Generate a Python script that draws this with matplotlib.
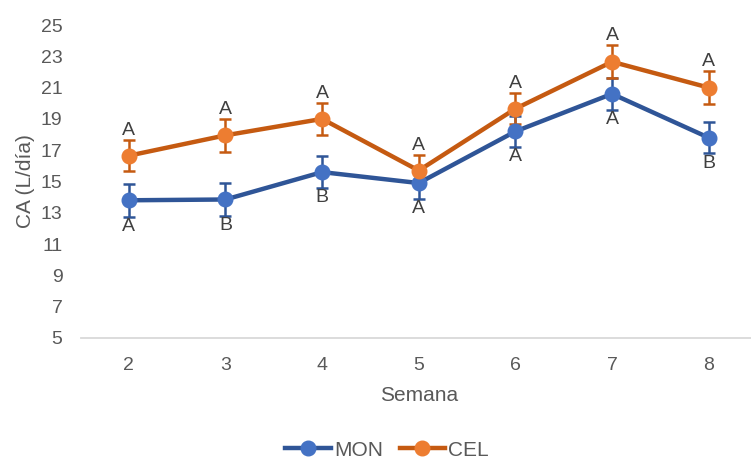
import matplotlib.pyplot as plt
from matplotlib.lines import Line2D

plt.rcParams['font.family'] = ['Liberation Sans', 'DejaVu Sans']

# Weekly intake per group
semanas = [2, 3, 4, 5, 6, 7, 8]
mon = [13.8, 13.85, 15.6, 14.9, 18.2, 20.6, 17.8]
cel = [16.65, 17.95, 19.0, 15.7, 19.65, 22.65, 21.0]
mon_err = [1.05, 1.05, 1.0, 1.0, 1.0, 1.0, 1.0]
cel_err = [1.0, 1.05, 1.0, 1.0, 1.0, 1.05, 1.05]
mon_letras = ['A', 'B', 'B', 'A', 'A', 'A', 'B']
cel_letras = ['A', 'A', 'A', 'A', 'A', 'A', 'A']

W, H = 751, 458
fig = plt.figure(figsize=(W / 100, H / 100), dpi=100)
ax = fig.add_axes([80.5 / W, 120 / H, (757 - 80.5) / W, 313 / H])

texto = '#595959'
handles = []

for vals, err, letras, linea, punto, nombre, arriba in [
    (mon, mon_err, mon_letras, '#2F5597', '#4472C4', 'MON', False),
    (cel, cel_err, cel_letras, '#C55A11', '#ED7D31', 'CEL', True),
]:
    ax.errorbar(semanas, vals, yerr=err, color=linea, lw=3.2,
                marker='o', ms=10.5, mfc=punto, mec=punto,
                ecolor=linea, elinewidth=1.8, capsize=4.5, capthick=1.8)
    handles.append(Line2D([], [], color=linea, lw=3.2, marker='o', ms=10.5,
                          mfc=punto, mec=punto, label=nombre))
    for x, v, e, l in zip(semanas, vals, err, letras):
        if arriba:
            ax.annotate(l, (x, v + e), xytext=(0, 1), textcoords='offset points',
                        ha='center', va='bottom', fontsize=14, color='#404040')
        else:
            ax.annotate(l, (x, v - e), xytext=(0, -1), textcoords='offset points',
                        ha='center', va='top', fontsize=14, color='#404040')

ax.set_xlim(1.5, 8.5)
ax.set_ylim(5, 25)
ax.set_yticks(range(5, 26, 2))
ax.set_xticks(semanas)
ax.tick_params(length=0, labelsize=14, colors=texto, pad=14)
ax.tick_params(axis='y', pad=13)

for s in ['top', 'right', 'left']:
    ax.spines[s].set_visible(False)
ax.spines['bottom'].set_color('#D9D9D9')
ax.spines['bottom'].set_linewidth(1.3)

ax.set_xlabel('Semana', fontsize=15, color=texto, labelpad=8)
ax.set_ylabel('CA (L/día)', fontsize=15, color=texto, labelpad=4)

fig.legend(handles=handles, loc='center', bbox_to_anchor=(387 / W, 1 - 450 / H),
           ncol=2, frameon=False, fontsize=15, labelcolor=texto,
           handlelength=2.2, handletextpad=0.15, columnspacing=0.8)

fig.savefig('out.png', dpi=100)
